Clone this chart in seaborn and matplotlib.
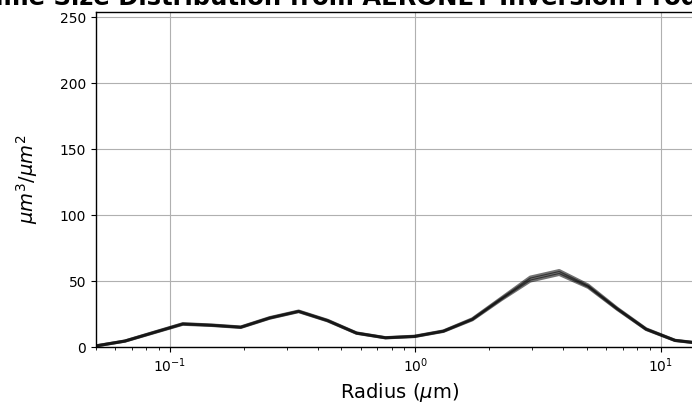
import numpy as np
import pandas as pd
import seaborn as sns
from matplotlib import pyplot as plt

# AERONET 反演粒径（22个半径档）
radius = [0.05, 0.065604, 0.086077, 0.112939, 0.148184, 0.194429, 0.255105,
          0.334716, 0.439173, 0.576227, 0.756052, 0.991996, 1.301571,
          1.707757, 2.240702, 2.939966, 3.857452, 5.061260, 6.640745,
          8.713145, 11.432287, 15.0]

# 各次反演的 dV/dlnr
dv_run1 = [0.8, 4.5, 11.0, 17.5, 16.5, 15.0, 22.0, 27.0, 20.0, 10.5, 7.0,
           8.0, 12.0, 21.0, 36.5, 51.5, 56.5, 46.0, 29.0, 13.5, 5.0, 2.5]
dv_run2 = [0.8, 4.4, 10.8, 17.2, 16.3, 14.8, 21.8, 26.8, 19.8, 10.4, 6.9,
           7.9, 11.8, 20.6, 35.8, 50.0, 55.0, 45.2, 28.6, 13.3, 4.9, 2.4]
dv_run3 = [0.9, 4.6, 11.2, 17.7, 16.7, 15.2, 22.3, 27.3, 20.3, 10.7, 7.1,
           8.2, 12.2, 21.4, 37.2, 53.0, 58.0, 47.0, 29.5, 13.8, 5.1, 2.6]

sns.set_style("ticks", {"axes.grid": True, "grid.color": "#b0b0b0",
                        "axes.edgecolor": "black", "text.color": "black",
                        "axes.labelcolor": "black", "xtick.color": "black",
                        "ytick.color": "black"})
plt.rcParams["font.family"] = ["DejaVu Sans"]

rows = []
for name, vals in [("run1", dv_run1), ("run2", dv_run2), ("run3", dv_run3)]:
    for r, v in zip(radius, vals):
        rows.append({"radius": r, "dv": v, "run": name})
df = pd.DataFrame(rows)

fig = plt.figure(figsize=(6.92, 4.07), dpi=100)
ax = fig.add_axes([0.1387, 0.1474, 0.8786, 0.8231])

sns.lineplot(data=df, x="radius", y="dv", hue="run", units="run",
             estimator=None, palette=["black"] * 3, alpha=0.55,
             linewidth=2.2, legend=False, ax=ax)

ax.set_xscale("log")
ax.set_xlim(0.05, 15)
ax.set_ylim(0, 254)
ax.set_yticks([0, 50, 100, 150, 200, 250])
ax.grid(True, which="major", color="#b0b0b0", linewidth=0.8)
ax.tick_params(which="both", direction="out", labelsize=10)
ax.tick_params(which="major", length=3.5)
ax.tick_params(which="minor", length=2)

ax.set_xlabel(r"Radius ($\mu$m)", fontsize=14)
ax.set_ylabel(r"$\mu m^3/\mu m^2$", fontsize=14, labelpad=14)
# 标题比画布宽，两边被裁掉
fig.text(-0.081, 0.9877,
         "Volume Size Distribution from AERONET Inversion Products",
         fontsize=17.5, fontweight="bold", ha="left", va="baseline")

for s in ax.spines.values():
    s.set_linewidth(1.0)

fig.savefig("out.png", dpi=100)
